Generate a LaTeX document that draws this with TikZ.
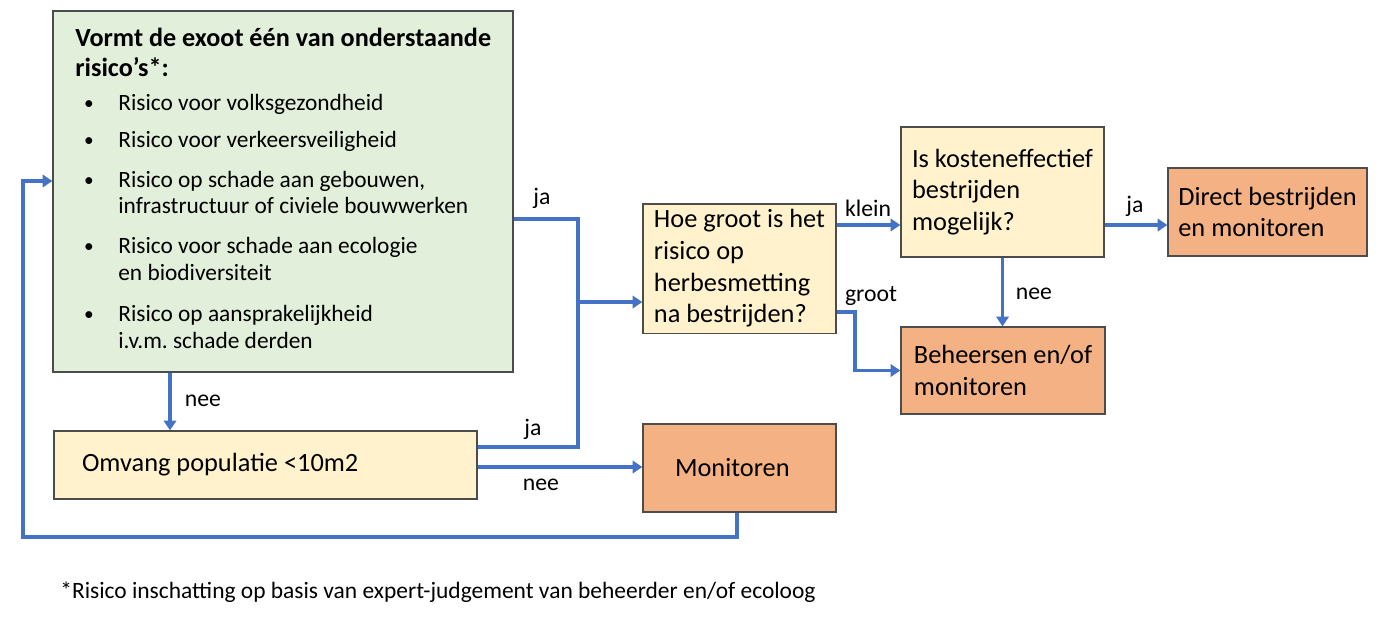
\documentclass[tikz,border=0pt]{standalone}
\usepackage{fontspec}
\setmainfont{Carlito}
\usetikzlibrary{arrows.meta}
\definecolor{riskgreen}{HTML}{E2EFDA}
\definecolor{askyellow}{HTML}{FFF2CC}
\definecolor{actorange}{HTML}{F4B183}
\definecolor{flowblue}{HTML}{4472C4}

\begin{document}
\begin{tikzpicture}[x=0.02cm,y=-0.02cm,
        box/.style={draw=black!70,line width=0.8pt,align=flush left,font=\fontsize{15}{18}\selectfont},
        question/.style={box,fill=askyellow},
        action/.style={box,fill=actorange},
        riskline/.style={anchor=base west,inner sep=0pt,font=\fontsize{13.3}{16}\selectfont},
        answer/.style={inner sep=0pt,font=\fontsize{13.5}{16}\selectfont},
        link/.style={draw=flowblue,line width=1.9pt},
        arrow/.style={link,-{Triangle[length=5.5pt,width=7pt]}}]
    \path[use as bounding box,fill=white] (0,0) rectangle (1386,627);

    % boxes
    \node[box,fill=riskgreen,minimum width=9.2cm,minimum height=7.22cm] (risk) at (283,191.5) {};
    \node[question,minimum height=1.36cm,text width=7.34cm,inner xsep=0.56cm] (size) at (265.5,465) {Omvang populatie <10m2};
    \node[question,minimum width=3.86cm,minimum height=2.58cm] (hoe) at (739.5,268.5) {Hoe groot is het\\risico op\\herbesmetting\\na bestrijden?};
    \node[question,minimum width=4.06cm,minimum height=2.6cm] (cost) at (1002.5,192) {Is kosteneffectief\\bestrijden\\mogelijk?};
    \node[action,minimum width=3.98cm,minimum height=1.76cm] (direct) at (1267.5,212) {Direct bestrijden\\en monitoren};
    \node[action,minimum width=4.08cm,minimum height=1.74cm] (manage) at (1003,370.5) {Beheersen en/of\\monitoren};
    \node[action,minimum height=1.76cm,text width=2.58cm,inner xsep=0.64cm] (mon) at (739.5,468) {Monitoren};

    % text of the risk box
    \node[riskline,font=\fontsize{14.9}{18}\selectfont\bfseries] (title1) at (75,46) {Vormt de exoot één van onderstaande};
    \node[riskline,font=\fontsize{14.9}{18}\selectfont\bfseries] (title2) at (75,76) {risico’s*:};
    \foreach \y/\t [count=\i] in {110/Risico voor volksgezondheid,147/Risico voor verkeersveiligheid,
            187/{Risico op schade aan gebouwen,},213/infrastructuur of civiele bouwwerken,
            253/Risico voor schade aan ecologie,280/en biodiversiteit,
            321/Risico op aansprakelijkheid,348/i.v.m.\ schade derden}
        \node[riskline] (line\i) at (118,\y) {\t};
    \foreach \y [count=\i] in {110,147,187,253,321}
        \node[riskline,anchor=base,font=\fontsize{11}{13}\selectfont] (dot\i) at (89,\y-1) {\textbullet};

    % connectors
    \coordinate (bus) at (578,302);
    \coordinate (loop) at (23,537);
    \draw[link] (risk.east |- 0,219) -| (bus);
    \draw[link] (size.east |- 0,447) -| (bus);
    \draw[arrow] (bus) -- (hoe.west |- bus);
    \draw[arrow] (risk.south -| 170,0) -- (size.north -| 170,0);
    \draw[arrow] (size.east |- 0,467) -- (mon.west |- 0,467);
    \draw[arrow] (mon.south -| 737,0) |- (loop) |- (risk.west |- 0,181);
    \draw[arrow] (hoe.east |- 0,225) -- (cost.west |- 0,225);
    \draw[arrow] (hoe.east |- 0,312) -- (855,312) |- (manage.west);
    \draw[arrow] (cost.east |- 0,225) -- (direct.west |- 0,225);
    \draw[arrow] (cost.south) -- (manage.north -| cost.south);

    % answers
    \node[answer] (ja1) at (542,198) {ja};
    \node[answer] (ja2) at (533,429) {ja};
    \node[answer] (nee1) at (541,485) {nee};
    \node[answer] (nee2) at (203,401) {nee};
    \node[answer] (klein) at (868,208) {klein};
    \node[answer] (groot) at (871,296) {groot};
    \node[answer] (ja3) at (1135,206) {ja};
    \node[answer] (nee3) at (1034,294) {nee};

    % footnote
    \node[riskline,font=\fontsize{13.35}{16}\selectfont] (note) at (60,598) {*Risico inschatting op basis van expert-judgement van beheerder en/of ecoloog};
\end{tikzpicture}
\end{document}
